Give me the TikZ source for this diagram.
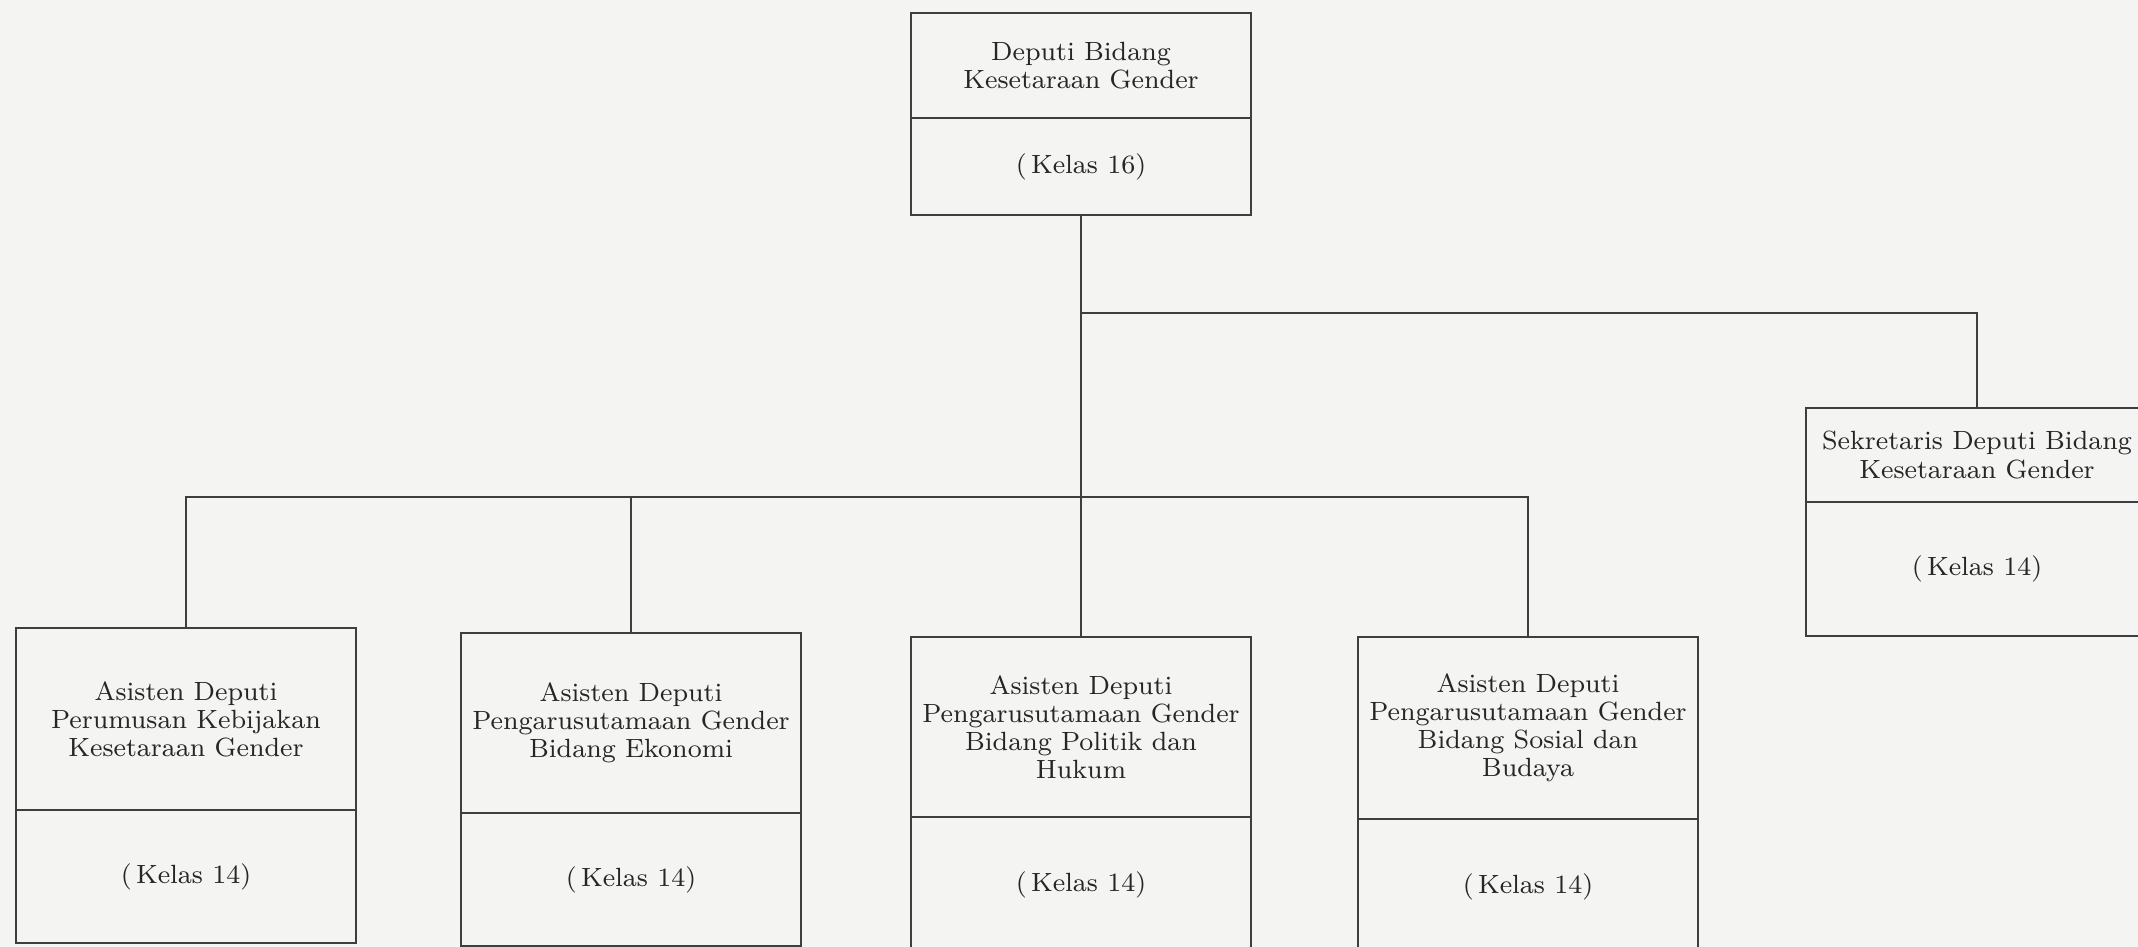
\documentclass[tikz,border=0pt]{standalone}
\usetikzlibrary{positioning}
\definecolor{paper}{RGB}{244,244,243}
\definecolor{ink}{RGB}{62,62,62}
\begin{document}
\begin{tikzpicture}[
  headbox/.style={draw=ink, line width=.65pt, minimum width=\w, inner sep=1pt, outer sep=0pt, align=center, text=black!85, font=\fontsize{7.5}{8}\selectfont},
  classbox/.style={headbox, below=0pt of #1},
  link/.style={draw=ink, line width=.65pt}]
\def\w{3.4cm}
\def\k{(\,Kelas 14)}
\fill[paper] (0,0) rectangle (21.38,-9.47);
\useasboundingbox (0,0) rectangle (21.38,-9.47);
% deputi
\node [headbox, anchor=north, minimum height=1.05cm, name=dep] at (10.81,-0.13) {Deputi Bidang\\Kesetaraan Gender};
\node [classbox=dep, minimum height=0.97cm, name=depk] {(\,Kelas 16)};
% sekretaris
\node [headbox, anchor=north, minimum height=0.94cm, minimum width=3.42cm, name=sek] at (19.77,-4.08) {Sekretaris Deputi Bidang\\Kesetaraan Gender};
\node [classbox=sek, minimum height=1.34cm, minimum width=3.42cm, name=sekk] {\k};
% asisten deputi
\node [headbox, anchor=north, minimum height=1.82cm, name=a1] at (1.86,-6.28) {Asisten Deputi\\Perumusan Kebijakan\\Kesetaraan Gender};
\node [headbox, anchor=north, minimum height=1.80cm, name=a2] at (6.31,-6.33) {Asisten Deputi\\Pengarusutamaan Gender\\Bidang Ekonomi};
\node [headbox, anchor=north, minimum height=1.80cm, name=a3] at (10.81,-6.37) {Asisten Deputi\\Pengarusutamaan Gender\\Bidang Politik dan\\Hukum};
\node [headbox, anchor=north, minimum height=1.82cm, name=a4] at (15.28,-6.37) {Asisten Deputi\\Pengarusutamaan Gender\\Bidang Sosial dan\\Budaya};
\node [classbox=a1, minimum height=1.33cm, name=a1k] {\k};
\node [classbox=a2, minimum height=1.33cm, name=a2k] {\k};
\node [classbox=a3, minimum height=1.35cm, name=a3k] {\k};
\node [classbox=a4, minimum height=1.35cm, name=a4k] {\k};
% garis
\coordinate (j1) at (10.81,-3.13);
\coordinate (j2) at (10.81,-4.97);
\draw [link] (depk.south) -- (j2);
\draw [link] (j1) -| (sek.north);
\draw [link] (j2) -| (a1.north);
\draw [link] (j2) -| (a2.north);
\draw [link] (j2) -- (a3.north);
\draw [link] (j2) -| (a4.north);
\end{tikzpicture}
\end{document}
